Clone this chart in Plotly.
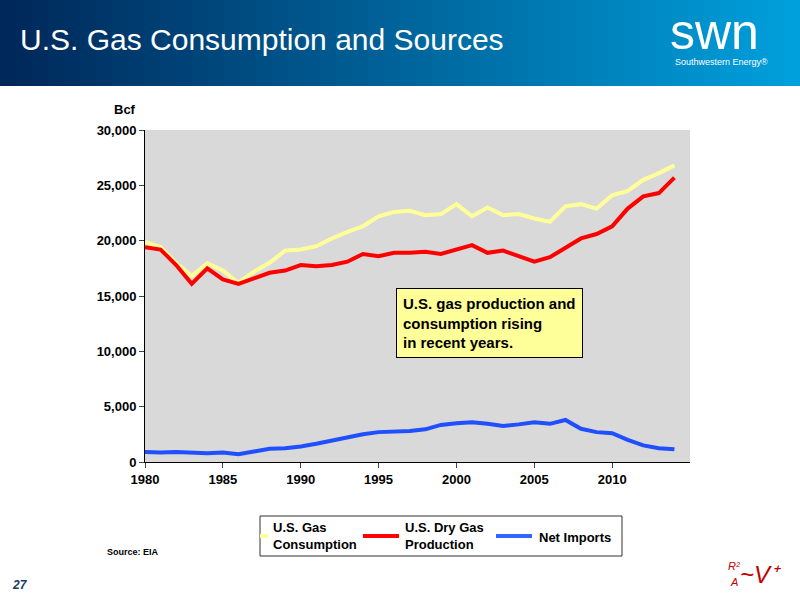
import plotly.graph_objects as go

years = list(range(1980, 2015))
consumption = [19900, 19400, 18000, 16800, 17950, 17300, 16200, 17200, 18000, 19100,
               19200, 19500, 20200, 20800, 21300, 22200, 22600, 22700, 22300, 22400,
               23300, 22200, 23000, 22300, 22400, 22000, 21700, 23100, 23300, 22900,
               24100, 24500, 25500, 26100, 26800]
production = [19400, 19200, 17800, 16100, 17500, 16500, 16100, 16600, 17100, 17300,
              17800, 17700, 17800, 18100, 18800, 18600, 18900, 18900, 19000, 18800,
              19200, 19600, 18900, 19100, 18600, 18100, 18500, 19300, 20200, 20600,
              21300, 22900, 24000, 24300, 25700]
net_imports = [900, 850, 900, 850, 800, 850, 700, 950, 1200, 1250,
               1400, 1650, 1950, 2200, 2500, 2700, 2750, 2800, 2950, 3350,
               3500, 3600, 3450, 3250, 3400, 3600, 3450, 3800, 3000, 2700,
               2600, 2000, 1500, 1250, 1150]
y_ticks = [0, 5000, 10000, 15000, 20000, 25000, 30000]
x_ticks = [1980, 1985, 1990, 1995, 2000, 2005, 2010]

fig = go.Figure()
fig.add_trace(go.Scatter(x=years, y=consumption, mode="lines",
                         line=dict(color="#ffff99", width=4)))
fig.add_trace(go.Scatter(x=years, y=production, mode="lines",
                         line=dict(color="#ff0000", width=4)))
fig.add_trace(go.Scatter(x=years, y=net_imports, mode="lines",
                         line=dict(color="#1f4fff", width=4)))

L, R, T, B = 145, 110, 130, 138
W, H = 800 - L - R, 600 - T - B


def px_x(x):
    return (x - L) / W


def px_y(y):
    return (600 - B - y) / H


shapes = []
# header gradient
n = 50
c0, c1 = (0, 40, 90), (0, 160, 220)
for i in range(n):
    t = i / (n - 1)
    col = tuple(int(c0[k] + (c1[k] - c0[k]) * t) for k in range(3))
    shapes.append(dict(type="rect", xref="paper", yref="paper", layer="below",
                       x0=px_x(i * 800 / n), x1=px_x((i + 1) * 800 / n + 1),
                       y0=px_y(86), y1=px_y(0),
                       fillcolor="rgb(%d,%d,%d)" % col, line=dict(width=0)))
# legend box and samples
shapes.append(dict(type="rect", xref="paper", yref="paper",
                   x0=px_x(260), x1=px_x(622), y0=px_y(556), y1=px_y(516),
                   line=dict(color="#333", width=1), fillcolor="white"))
for x0, x1, col in [(260, 268, "#ffff99"), (363, 399, "#ff0000"), (496, 532, "#3366ff")]:
    shapes.append(dict(type="line", xref="paper", yref="paper",
                       x0=px_x(x0), x1=px_x(x1), y0=px_y(536), y1=px_y(536),
                       line=dict(color=col, width=4)))
fig.update_layout(shapes=shapes)

anns = [
    dict(text="U.S. Gas Consumption and Sources", x=px_x(18), y=px_y(40), xanchor="left",
         font=dict(size=30, color="white")),
    dict(text="swn", x=px_x(668), y=px_y(32), xanchor="left",
         font=dict(size=50, color="white")),
    dict(text="Southwestern Energy®", x=px_x(673), y=px_y(62), xanchor="left",
         font=dict(size=9, color="white")),
    dict(text="<b>Bcf</b>", x=px_x(112), y=px_y(110), xanchor="left",
         font=dict(size=13, color="black")),
    dict(text="<b>U.S. gas production and<br>consumption rising<br>in recent years.</b>",
         x=px_x(396), y=px_y(288), xanchor="left", yanchor="top", align="left",
         font=dict(size=15, color="black"), bgcolor="#ffff99", bordercolor="black",
         borderwidth=1, borderpad=6),
    dict(text="<b>U.S. Gas<br>Consumption</b>", x=px_x(271), y=px_y(536), xanchor="left",
         align="left", font=dict(size=13)),
    dict(text="<b>U.S. Dry Gas<br>Production</b>", x=px_x(403), y=px_y(536), xanchor="left",
         align="left", font=dict(size=13)),
    dict(text="<b>Net Imports</b>", x=px_x(537), y=px_y(537), xanchor="left",
         font=dict(size=13)),
    dict(text="<b>Source: EIA</b>", x=px_x(105), y=px_y(552), xanchor="left",
         font=dict(size=9)),
    dict(text="<b><i>27</i></b>", x=px_x(10), y=px_y(585), xanchor="left",
         font=dict(size=12, color="#1a3a6a")),
    dict(text="<i>R²</i>", x=px_x(726), y=px_y(566), xanchor="left",
         font=dict(size=11, color="#c00000")),
    dict(text="<i>A</i>", x=px_x(728), y=px_y(582), xanchor="left",
         font=dict(size=11, color="#c00000")),
    dict(text="<i>~V⁺</i>", x=px_x(738), y=px_y(574), xanchor="left",
         font=dict(size=24, color="#c00000")),
]
for a in anns:
    a.update(xref="paper", yref="paper", showarrow=False)
    a.setdefault("yanchor", "middle")
fig.update_layout(annotations=anns)

fig.update_layout(
    width=800, height=600,
    margin=dict(l=L, r=R, t=T, b=B),
    paper_bgcolor="white", plot_bgcolor="#d9d9d9",
    showlegend=False,
    font=dict(family="Liberation Sans, Arial", color="black"),
    xaxis=dict(range=[1980, 2015], tickvals=x_ticks, showgrid=False, zeroline=False,
               showline=True, linecolor="black", ticks="outside", ticklen=5,
               tickfont=dict(size=13, weight="bold")),
    yaxis=dict(range=[0, 30000], tickvals=y_ticks, tickformat=",", showgrid=False,
               zeroline=False, showline=True, linecolor="black", ticks="outside",
               ticklen=5, tickfont=dict(size=13, weight="bold")),
)

fig.write_html("out.html", config={"displayModeBar": False},
               post_script="document.body.style.margin='0';")
